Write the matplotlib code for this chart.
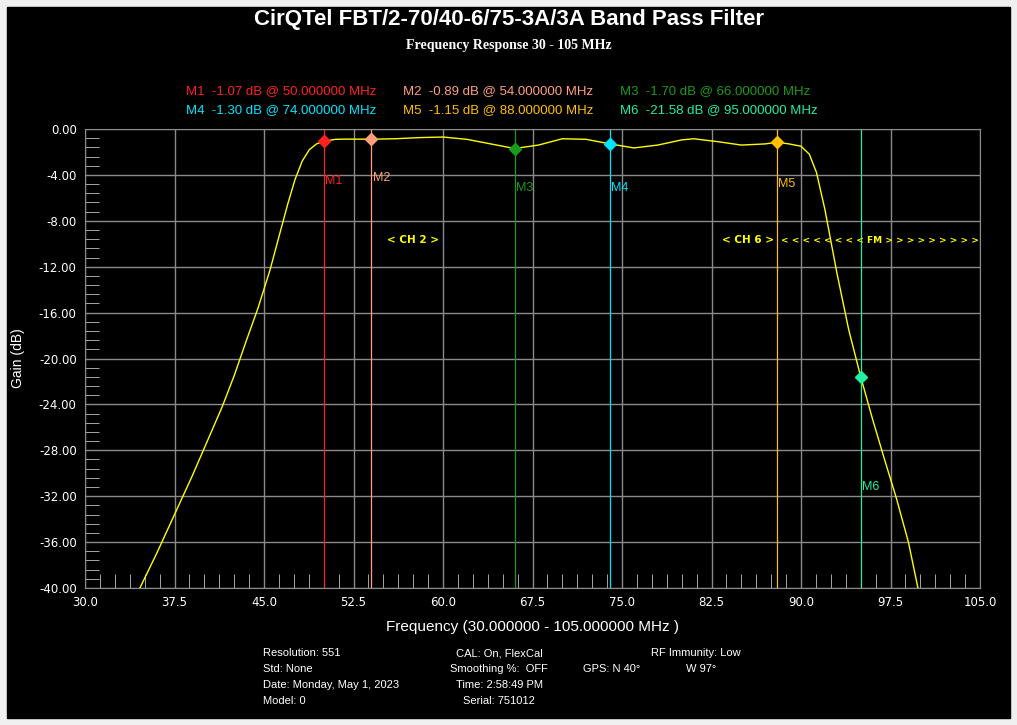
import matplotlib
matplotlib.use("Agg")
import matplotlib.pyplot as plt
from matplotlib.patches import Rectangle
import numpy as np

freq = [34.6, 36.0, 37.5, 39.0, 40.0, 41.5, 42.5, 43.5, 44.5, 45.5, 46.3, 47.0, 47.6, 48.2, 48.8, 49.4, 50.0, 51.0, 52.0,
        54.0, 56.0, 58.0, 60.0, 62.0, 64.0, 66.0, 68.0, 70.0, 72.0, 74.0, 76.0, 78.0, 80.0, 81.0, 83.0, 85.0, 87.0, 88.0,
        89.0, 90.0, 90.7, 91.3, 92.0, 93.0, 94.0, 95.0, 96.0, 97.0, 98.0, 99.0, 99.8]
gain = [-40.0, -37.0, -33.6, -30.2, -27.8, -24.2, -21.5, -18.5, -15.6, -12.3, -9.2, -6.5, -4.4, -2.8, -1.8, -1.3, -1.07, -0.9, -0.88,
        -0.89, -0.85, -0.75, -0.7, -0.9, -1.3, -1.7, -1.4, -0.85, -0.9, -1.3, -1.65, -1.4, -0.95, -0.85, -1.1, -1.4, -1.3, -1.15,
        -1.3, -1.5, -2.2, -3.8, -7.0, -12.5, -17.5, -21.58, -25.3, -28.8, -32.2, -36.0, -40.0]

m_names = ["M1", "M2", "M3", "M4", "M5", "M6"]
m_freq = [50.0, 54.0, 66.0, 74.0, 88.0, 95.0]
m_gain = [-1.07, -0.89, -1.70, -1.30, -1.15, -21.58]
m_col = ["#ff2020", "#ffa07a", "#1a9a1a", "#00e5ff", "#ffc000", "#20f0a0"]
m_lab_y = [-4.5, -4.3, -5.1, -5.1, -4.8, -31.2]

x_ticks = [30.0, 37.5, 45.0, 52.5, 60.0, 67.5, 75.0, 82.5, 90.0, 97.5, 105.0]
y_ticks = [0, -4, -8, -12, -16, -20, -24, -28, -32, -36, -40]

W, H = 1017, 725
fig = plt.figure(figsize=(W/100, H/100), dpi=100, facecolor="#f0f0f0")
fig.patches.append(Rectangle((7/W, 7/H), 1003/W, 711/H, transform=fig.transFigure, color="black", zorder=-10))
ax = fig.add_axes([85/W, 1-588/H, 895/W, 459/H], facecolor="black", zorder=5)
ax.set_xlim(30, 105); ax.set_ylim(-40, 0)
ax.set_xticks(x_ticks); ax.set_yticks(y_ticks)
ax.set_xticks(np.arange(30, 105.01, 1.25), minor=True)
ax.set_yticks(np.arange(-40, 0.01, 0.8), minor=True)
ax.set_xticklabels([f"{v:.1f}" for v in x_ticks])
ax.set_yticklabels([f"{v:.2f}" for v in y_ticks])
ax.grid(True, which="major", color="#8a8a8a", lw=1)
for s in ax.spines.values():
    s.set_color("#8a8a8a")
ax.tick_params(which="both", colors="#c0c0c0", labelcolor="white", labelsize=8.5, direction="in")
ax.tick_params(which="major", length=0, pad=6)
ax.tick_params(which="minor", length=10)
ax.plot(freq, gain, color="#ffff00", lw=1, zorder=3)
for n, f, g, c, ly in zip(m_names, m_freq, m_gain, m_col, m_lab_y):
    ax.axvline(f, color=c, lw=0.9, zorder=2)
    ax.plot([f], [g], marker="D", ms=6, color=c, zorder=4)
    ax.text(f + 0.1, ly, n, color=c, fontsize=9, family="Liberation Sans", va="center")
ax.text(57.5, -9.7, "< CH 2 >", color="#ffff00", fontsize=7.5, fontweight="bold", ha="center", va="center")
ax.text(87.7, -9.7, "< CH 6 >", color="#ffff00", fontsize=7.5, fontweight="bold", ha="right", va="center")
ax.text(88.3, -9.7, "< < < < < < < < FM > > > > > > > > >", color="#ffff00", fontsize=6.5, fontweight="bold", ha="left", va="center")
ax.set_xlabel("Frequency (30.000000 - 105.000000 MHz )", color="white", fontsize=11, family="Liberation Sans", labelpad=8)
ax.set_ylabel("Gain (dB)", color="white", fontsize=10, family="Liberation Sans", labelpad=10)

fig.text(0.5, 1-20/H, "CirQTel FBT/2-70/40-6/75-3A/3A Band Pass Filter", color="white", fontsize=16, family="Liberation Sans", fontweight="bold", ha="center", va="center")
fig.text(0.5, 1-46/H, "Frequency Response 30 - 105 MHz", color="white", fontsize=10, family="Liberation Serif", fontweight="bold", ha="center", va="center")
xs = [186, 403, 620]
for i, (n, f, g, c) in enumerate(zip(m_names, m_freq, m_gain, m_col)):
    fig.text(xs[i % 3]/W, 1-(91 if i < 3 else 110)/H, f"{n}  {g:.2f} dB @ {f:.6f} MHz", color=c, fontsize=9.5, family="Liberation Sans", va="center")

info = [(263, 653, "Resolution: 551", "left"), (263, 669, "Std: None", "left"), (263, 685, "Date: Monday, May 1, 2023", "left"),
        (263, 701, "Model: 0", "left"), (499, 653, "CAL: On, FlexCal", "center"), (499, 669, "Smoothing %:  OFF", "center"),
        (499, 685, "Time: 2:58:49 PM", "center"), (499, 701, "Serial: 751012", "center"), (651, 653, "RF Immunity: Low", "left"),
        (583, 669, "GPS: N 40°", "left"), (686, 669, "W 97°", "left")]
for x, y, t, ha in info:
    fig.text(x/W, 1-y/H, t, color="white", fontsize=8, family="Liberation Sans", ha=ha, va="center")
fig.savefig("out.png", dpi=100, facecolor=fig.get_facecolor())
